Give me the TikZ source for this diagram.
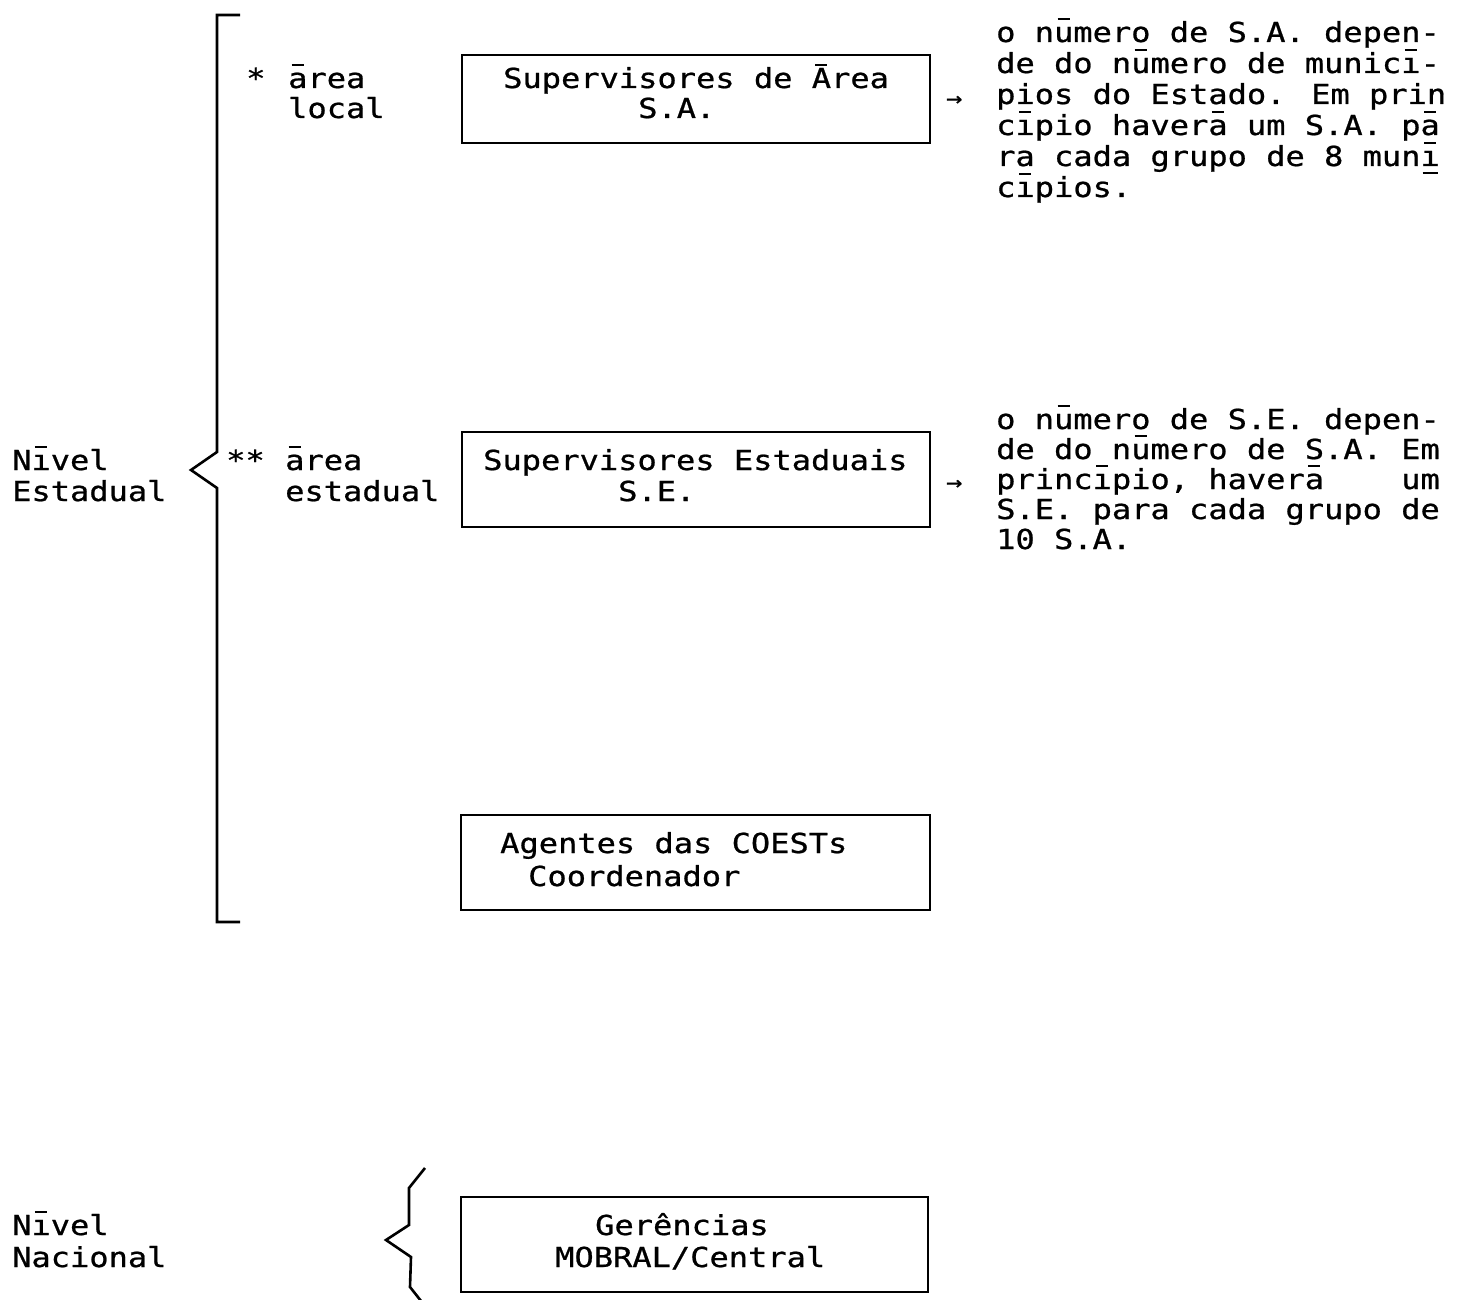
\documentclass[tikz,border=0pt]{standalone}
\usepackage{fontspec}
\newfontfamily\tw[FakeStretch=1.165,FakeBold=0.8]{DejaVu Sans Mono}
% typewriter-style macron: a short bar typed high above the letter
\newcommand\mac[1]{\leavevmode\rlap{\hspace{3.5pt}\rule[22pt]{12pt}{2.4pt}}#1}
% bar typed under a letter
\newcommand\und[1]{\leavevmode\rlap{\hspace{2pt}\rule[-8pt]{15pt}{2.4pt}}#1}
\tikzset{
  txt/.style={anchor=base west, inner sep=0pt, font=\tw\fontsize{27.5}{31}\selectfont},
  arr/.style={anchor=base west, inner sep=0pt, font=\tw\fontsize{23}{25}\selectfont},
  box/.style={draw, line width=2.6pt, inner sep=0pt},
  brace/.style={draw, line width=2.6pt, line join=miter}
}
\begin{document}
\begin{tikzpicture}[x=1pt, y=-1pt]
\useasboundingbox[fill=white] (0,0) rectangle (1459,1300);

% boxes
\path[box] (462,55) rectangle (930,143) node[coordinate] (b1) {};
\path[box] (462,432) rectangle (930,527) node[coordinate] (b2) {};
\path[box] (461,815) rectangle (930,910) node[coordinate] (b3) {};
\path[box] (461,1197) rectangle (928,1292) node[coordinate] (b4) {};

% box texts
\node[txt] (t1a) at (503,88) {Supervisores de \mac{A}rea};
\node[txt] (t1b) at (638,118) {S.A.};
\node[txt] (t2a) at (483,470) {Supervisores Estaduais};
\node[txt] (t2b) at (618,501) {S.E.};
\node[txt] (t3a) at (500,853) {Agentes das COESTs};
\node[txt] (t3b) at (528,886) {Coordenador};
\node[txt] (t4a) at (595,1235) {Ger\^encias};
\node[txt] (t4b) at (555,1267) {MOBRAL/Central};

% left labels
\node[txt] (s1) at (246,88) {*};
\node[txt] (l1a) at (288,88) {\mac{a}rea};
\node[txt] (l1b) at (288,118) {local};
\node[txt] (s2) at (226,470) {**};
\node[txt] (l2a) at (285,470) {\mac{a}rea};
\node[txt] (l2b) at (285,501) {estadual};
\node[txt] (n1a) at (12,470) {N\mac{ı}vel};
\node[txt] (n1b) at (12,501) {Estadual};
\node[txt] (n2a) at (12,1235) {N\mac{ı}vel};
\node[txt] (n2b) at (12,1267) {Nacional};

% braces
\draw[brace] (240,15) -- (217,15) -- (217,452) -- (191,470) -- (217,488) -- (217,922) -- (240,922);
\draw[brace] (425,1168) -- (409,1188) -- (409,1225) -- (386,1240) -- (411,1257) -- (410,1287) -- (425,1306);

% notes, first block
\node[arr] (a1) at (946,106) {→};
\node[txt] (r1) at (996,42) {o n\mac{u}mero de S.A. depen-};
\node[txt] (r2) at (996,73) {de do n\mac{u}mero de munic\mac{ı}-};
\node[txt] (r3) at (996,104) {pios do Estado. Em prin};
\node[txt] (r4) at (996,135) {c\mac{ı}pio haver\mac{a} um S.A. p\mac{a}};
\node[txt] (r5) at (996,166) {ra cada grupo de 8 mun\und{\mac{ı}}};
\node[txt] (r6) at (996,197) {c\mac{ı}pios.};

% notes, second block
\node[arr] (a2) at (946,490) {→};
\node[txt] (q1) at (996,429) {o n\mac{u}mero de S.E. depen-};
\node[txt] (q2) at (996,459) {de do n\mac{u}mero de S.A. Em};
\node[txt] (q3) at (996,489) {princ\mac{ı}pio, haver\mac{a}~~~~um};
\node[txt] (q4) at (996,519) {S.E. para cada grupo de};
\node[txt] (q5) at (996,549) {10 S.A.};
\end{tikzpicture}
\end{document}
